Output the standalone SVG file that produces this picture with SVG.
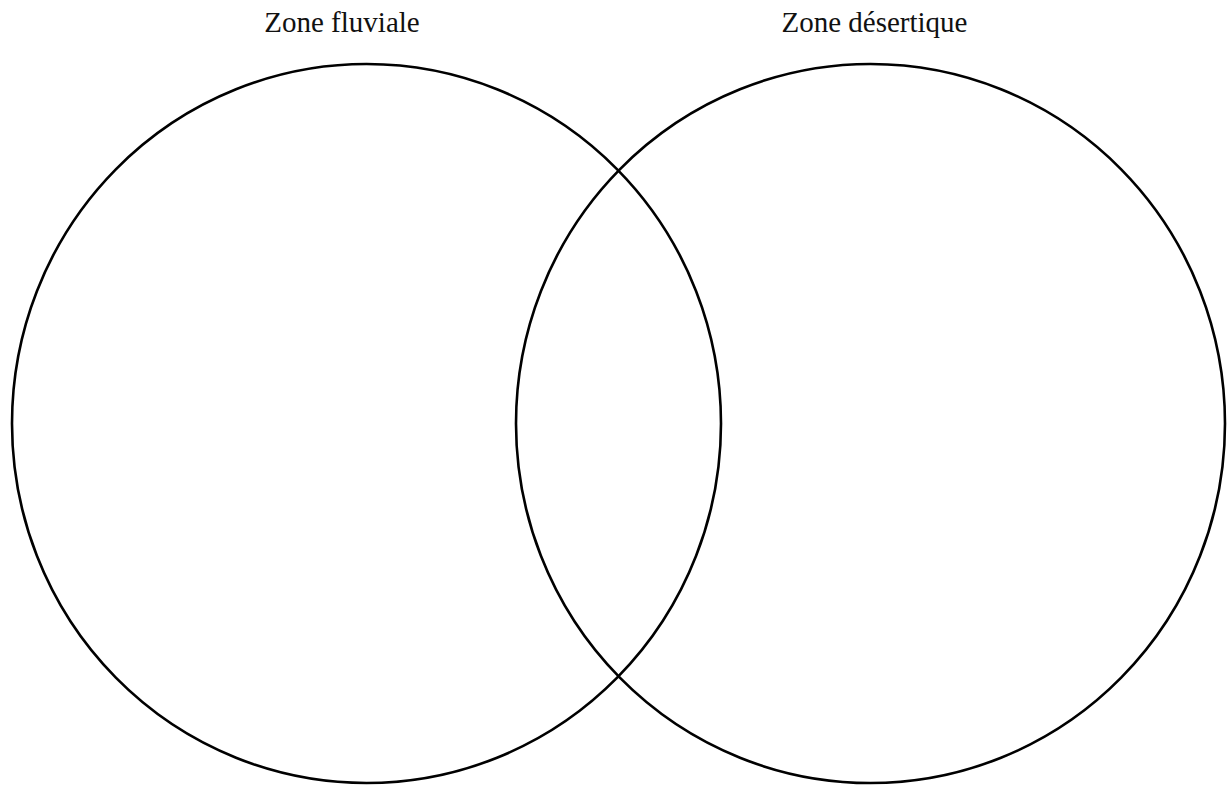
<svg xmlns="http://www.w3.org/2000/svg" width="1228" height="787" viewBox="0 0 1228 787">
<style>
.c{fill:none;stroke:#000;stroke-width:2.6}
.t{font-family:"Liberation Serif",serif;font-size:29px;fill:#111;text-anchor:middle}
</style>
<rect width="1228" height="787" fill="#fff"/>
<g id="zone-fluviale">
<ellipse class="c" cx="366.5" cy="423.5" rx="354.5" ry="359.5"/>
<text class="t" x="342" y="32">Zone fluviale</text>
</g>
<g id="zone-desertique">
<ellipse class="c" cx="870.5" cy="423.5" rx="354.5" ry="359.5"/>
<text class="t" x="874.5" y="32">Zone désertique</text>
</g>
<g id="connectors"></g>
</svg>
